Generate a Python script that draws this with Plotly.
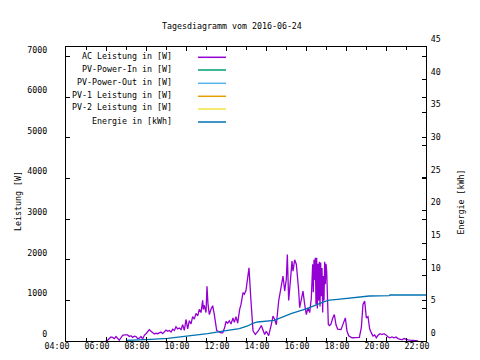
import plotly.graph_objects as go

DAY = "2016-06-24"

# AC Leistung [W]
ac_time = ["05:59","06:05","06:10","06:15","06:20","06:25","06:30","06:35","06:40","06:45","06:50","06:55",
           "07:00","07:05","07:10","07:15","07:20","07:25","07:30","07:35","07:40","07:45","07:50","07:55",
           "08:00","08:05","08:10","08:15","08:20","08:25","08:30","08:35","08:40","08:45","08:50","08:55",
           "09:00","09:05","09:10","09:15","09:20","09:25","09:30","09:35","09:40","09:45","09:50","09:55",
           "10:00","10:05","10:10","10:15","10:20","10:25","10:30","10:35","10:40","10:45","10:50","10:52","10:55",
           "11:00","11:03","11:06","11:10","11:15","11:20","11:25","11:28","11:32","11:38","11:45","11:50","11:56",
           "12:00","12:05","12:10","12:15","12:21","12:25","12:30","12:35","12:41","12:45","12:51","12:55",
           "13:00","13:04","13:09","13:14","13:18","13:21","13:28","13:36","13:46","13:56","14:01","14:08",
           "14:16","14:21","14:26","14:31","14:38","14:46","14:51","14:56","15:01","15:04","15:08","15:14",
           "15:18","15:21","15:26","15:31","15:34","15:38","15:41","15:46","15:51","15:56","16:01","16:06",
           "16:11","16:16","16:18","16:20","16:22","16:24","16:26","16:28","16:30","16:32","16:34","16:36",
           "16:38","16:40","16:42","16:44","16:46","16:48","16:50","16:52","16:54","16:56","16:58","17:00",
           "17:02","17:04","17:07","17:11","17:15","17:20","17:25","17:30","17:35","17:45","17:52","17:58",
           "18:03","18:08","18:18","18:28","18:40","18:46","18:51","18:56","19:01","19:06","19:11","19:16",
           "19:21","19:26","19:31","19:36","19:42","19:48","19:54","20:00","20:06","20:12","20:18","20:24",
           "20:30","20:36","20:42","20:48","20:54","21:00","21:06","21:12","21:18","21:24","21:30","21:36"]
ac_power = [0, 20, 60, 100, 90, 60, 110, 70, 20, 80, 140, 150,
            150, 150, 110, 130, 90, 120, 110, 60, 70, 110, 50, 140,
            180, 220, 280, 240, 200, 170, 190, 180, 200, 220, 180, 230,
            270, 240, 260, 220, 290, 260, 350, 300, 320, 280, 400, 260,
            530, 300, 500, 420, 600, 540, 680, 620, 780, 700, 1000, 780, 880,
            700, 1350, 900, 650, 780, 870, 650, 500, 260, 230, 200, 200, 330,
            480, 440, 500, 420, 570, 460, 600, 440, 780, 900, 1190, 1150,
            1250, 1480, 1800, 1100, 570, 250, 160, 240, 380, 160, 240, 130,
            410, 615, 530, 400, 985, 1400, 1600, 1230, 1530, 2130, 1000, 1560,
            1970, 1720, 2000, 1890, 1640, 1250, 820, 1060, 1230, 900, 650, 820,
            700, 1060, 1600, 1890, 1200, 2000, 1500, 2050, 900, 2050, 800, 1900,
            1000, 1950, 850, 1930, 1100, 1800, 700, 1600, 1000, 1950, 1400, 1900,
            1720, 860, 410, 380, 420, 560, 650, 400, 290, 280, 420, 570,
            245, 130, 80, 80, 90, 330, 900, 985, 570, 600, 300, 200,
            120, 150, 80, 140, 180, 160, 180, 150, 100, 80, 100, 80,
            100, 60, 50, 30, 60, 40, 30, 20, 20, 15, 10, 0]

# Energie [kWh]
en_time = ["07:00","07:40","08:15","09:05","10:05","11:05","12:05","12:40","13:05","13:20","13:35",
           "14:25","15:15","16:05","16:55","17:10","17:35","18:35","19:00","19:10","20:10","20:12","22:00"]
en_kwh = [0.1, 0.15, 0.25, 0.4, 0.77, 1.12, 1.62, 1.9, 2.3, 2.7, 2.91,
          3.16, 4.18, 5.0, 6.02, 6.25, 6.37, 6.63, 6.75, 6.89, 6.95, 7.04, 7.04]

# series without visible data on this day
pv_in_time, pv_in_power = [], []
pv_out_time, pv_out_power = [], []
pv1_time, pv1_power = [], []
pv2_time, pv2_power = [], []

legend_labels = ["AC Leistung in [W]", "PV-Power-In in [W]", "PV-Power-Out in [W]",
                 "PV-1 Leistung in [W]", "PV-2 Leistung in [W]", "Energie in [kWh]"]
colors = ["#9400d3", "#009e73", "#56b4e9", "#e69f00", "#f0e442", "#0072b2"]

x_ticks = ["04:00", "06:00", "08:00", "10:00", "12:00", "14:00", "16:00", "18:00", "20:00", "22:00"]


def ts(lst):
    return [f"{DAY} {t}" for t in lst]


FONT = "DejaVu Sans Mono"
FS = 8.3

fig = go.Figure()
series = [(ac_time, ac_power, "y"), (pv_in_time, pv_in_power, "y"), (pv_out_time, pv_out_power, "y"),
          (pv1_time, pv1_power, "y"), (pv2_time, pv2_power, "y"), (en_time, en_kwh, "y2")]
for (t, v, ax), c, name in zip(series, colors, legend_labels):
    fig.add_trace(go.Scatter(x=ts(t), y=v, mode="lines", name=name, yaxis=ax,
                             line=dict(color=c, width=1.3), showlegend=False))

W, H = 480, 360
L, R, T, B = 58, 418, 39, 333


def px2x(px):
    return (px - L) / (R - L)


def px2y(py):
    return (B - py) / (B - T)


annotations = [
    dict(text="Tagesdiagramm vom 2016-06-24", x=px2x(223.5), y=px2y(18), xref="paper", yref="paper",
         showarrow=False, xanchor="center", yanchor="middle", font=dict(family=FONT, size=FS, color="black")),
    dict(text="Leistung [W]", x=px2x(10), y=px2y(193), xref="paper", yref="paper", textangle=-90,
         showarrow=False, xanchor="center", yanchor="middle", font=dict(family=FONT, size=FS, color="black")),
    dict(text="Energie [kWh]", x=px2x(452), y=px2y(194.5), xref="paper", yref="paper", textangle=-90,
         showarrow=False, xanchor="center", yanchor="middle", font=dict(family=FONT, size=FS, color="black")),
]
shapes = []
leg_y = [49.3, 62, 75.3, 88.3, 101, 114]
for lab, c, yy in zip(legend_labels, colors, leg_y):
    annotations.append(dict(text=lab, x=px2x(166), y=px2y(yy - 1.5), xref="paper", yref="paper",
                            showarrow=False, xanchor="right", yanchor="middle",
                            font=dict(family=FONT, size=FS, color="black")))
    shapes.append(dict(type="line", xref="paper", yref="paper", x0=px2x(190), x1=px2x(218),
                       y0=px2y(yy), y1=px2y(yy), line=dict(color=c, width=1.5)))

fig.update_layout(
    width=W, height=H, autosize=False,
    margin=dict(l=L, r=W - R, t=T, b=H - B, pad=0, autoexpand=False),
    paper_bgcolor="white", plot_bgcolor="white",
    font=dict(family=FONT, size=FS, color="black"),
    annotations=annotations, shapes=shapes,
    xaxis=dict(type="date", range=[f"{DAY} 04:00", f"{DAY} 22:00"],
               tickvals=ts(x_ticks), ticktext=x_ticks, automargin=False,
               ticks="inside", ticklen=4, tickcolor="black",
               minor=dict(dtick=3600000, tick0=f"{DAY} 04:00", ticks="inside", ticklen=3, tickcolor="black"),
               showline=True, linecolor="black", linewidth=1, mirror="ticks",
               showgrid=False, zeroline=False, ticklabelstandoff=-3, ticklabelshift=-9),
    yaxis=dict(range=[0, 7240], tickvals=[0, 1000, 2000, 3000, 4000, 5000, 6000, 7000],
               automargin=False,
               ticks="inside", ticklen=4, tickcolor="black",
               showline=True, linecolor="black", linewidth=1, mirror="ticks",
               showgrid=False, zeroline=False, ticklabelstandoff=16, ticklabelshift=-7),
    yaxis2=dict(range=[0, 45], tickvals=[0, 5, 10, 15, 20, 25, 30, 35, 40, 45],
                overlaying="y", side="right", anchor="x", automargin=False,
                ticks="inside", ticklen=4, tickcolor="black",
                showline=True, linecolor="black", linewidth=1,
                showgrid=False, zeroline=False, ticklabelstandoff=2, ticklabelshift=-8),
)

fig.write_html("out.html")
